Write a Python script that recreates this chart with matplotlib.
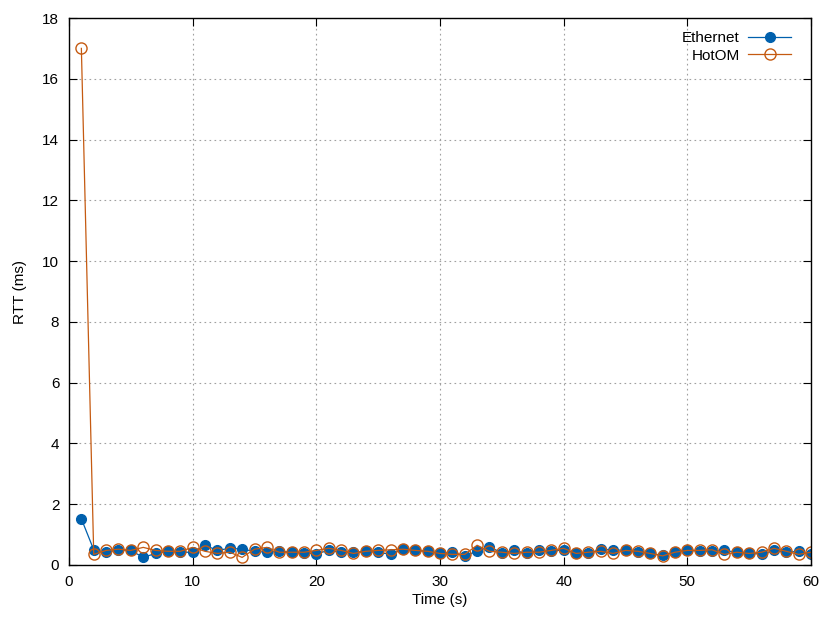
import numpy as np
import matplotlib
matplotlib.use("Agg")
from matplotlib import pyplot as plt

plt.rcParams['font.family'] = ['Liberation Sans', 'DejaVu Sans']

time_s = list(range(1, 61))

ethernet = [1.52, 0.50, 0.42, 0.50, 0.48, 0.25, 0.38, 0.45, 0.42, 0.42,
            0.65, 0.48, 0.55, 0.52, 0.45, 0.42, 0.45, 0.42, 0.40, 0.37,
            0.48, 0.42, 0.42, 0.45, 0.42, 0.35, 0.52, 0.48, 0.45, 0.38,
            0.42, 0.30, 0.45, 0.60, 0.40, 0.48, 0.38, 0.48, 0.45, 0.50,
            0.38, 0.38, 0.52, 0.50, 0.48, 0.42, 0.38, 0.32, 0.42, 0.50,
            0.45, 0.45, 0.48, 0.42, 0.40, 0.35, 0.48, 0.42, 0.45, 0.35]

hotom = [17.0, 0.35, 0.48, 0.52, 0.48, 0.58, 0.48, 0.45, 0.45, 0.58,
         0.45, 0.38, 0.42, 0.25, 0.52, 0.58, 0.42, 0.42, 0.42, 0.48,
         0.55, 0.48, 0.38, 0.45, 0.48, 0.50, 0.52, 0.48, 0.45, 0.38,
         0.35, 0.35, 0.65, 0.45, 0.42, 0.38, 0.42, 0.42, 0.48, 0.55,
         0.38, 0.42, 0.45, 0.38, 0.48, 0.45, 0.38, 0.30, 0.42, 0.48,
         0.48, 0.50, 0.35, 0.42, 0.38, 0.42, 0.55, 0.45, 0.35, 0.42]

blue = '#0060ad'
orange = '#c55a11'

fig = plt.figure(figsize=(8.19, 6.19), dpi=100)
ax = fig.add_axes([69/819, 54/619, 742/819, 547/619])

ax.plot(time_s, ethernet, '-o', color=blue, lw=0.9, ms=7,
        markerfacecolor=blue, markeredgecolor=blue, label='Ethernet')
ax.plot(time_s, hotom, '-o', color=orange, lw=0.9, ms=8,
        markerfacecolor='none', markeredgecolor=orange, mew=1.0, label='HotOM')

ax.set_xlim(0, 60)
ax.set_ylim(0, 18)
ax.set_xticks(range(0, 61, 10))
ax.set_yticks(range(0, 19, 2))
ax.tick_params(direction='in', top=True, right=True, labelsize=11, length=6, pad=7)
ax.grid(True, color='#a0a0a0', linestyle=(0, (1.5, 3)), lw=0.8)
for s in ax.spines.values():
    s.set_linewidth(1.0)

ax.set_xlabel('Time (s)', fontsize=11, labelpad=3)
ax.set_ylabel('RTT (ms)', fontsize=11, labelpad=11)

leg = ax.legend(loc='upper right', bbox_to_anchor=(1.0, 1.0 + 7/547),
                frameon=False, markerfirst=False,
                fontsize=11, handlelength=2.8, borderaxespad=0.9,
                labelspacing=0.25, handletextpad=0.55)
for t in leg.get_texts():
    t.set_ha('right')

fig.savefig('out.png', dpi=100)
